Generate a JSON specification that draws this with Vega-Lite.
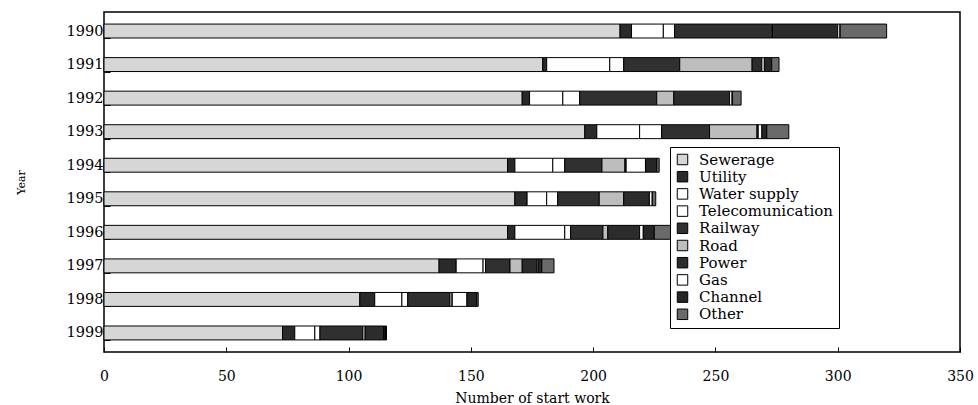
{
  "$schema": "https://vega.github.io/schema/vega-lite/v6.json",
  "width": 856,
  "height": 340,
  "autosize": {"type": "none"},
  "padding": {"left": 104, "top": 12, "right": 18, "bottom": 53},
  "background": "white",
  "config": {
    "view": {"stroke": "black", "strokeWidth": 1.5},
    "font": "DejaVu Serif"
  },
  "data": {
    "values": [
      {"Year": "1990", "Sewerage": 211, "Utility": 4.7, "Water supply": 13, "Telecomunication": 4.6, "Railway": 40, "Road": 0, "Power": 26.7, "Gas": 1, "Channel": 0, "Other": 19},
      {"Year": "1991", "Sewerage": 179.4, "Utility": 1.6, "Water supply": 25.8, "Telecomunication": 5.7, "Railway": 22.9, "Road": 29.6, "Power": 4, "Gas": 1, "Channel": 3, "Other": 3},
      {"Year": "1992", "Sewerage": 171, "Utility": 3, "Water supply": 13.6, "Telecomunication": 6.9, "Railway": 31.5, "Road": 7, "Power": 22.8, "Gas": 1, "Channel": 0.2, "Other": 3.5},
      {"Year": "1993", "Sewerage": 196.6, "Utility": 4.9, "Water supply": 17.5, "Telecomunication": 9, "Railway": 19.6, "Road": 19.4, "Power": 0.5, "Gas": 1.5, "Channel": 2, "Other": 9},
      {"Year": "1994", "Sewerage": 165, "Utility": 3, "Water supply": 15.5, "Telecomunication": 4.9, "Railway": 15.2, "Road": 9.4, "Power": 0.5, "Gas": 7.9, "Channel": 4.6, "Other": 1},
      {"Year": "1995", "Sewerage": 168, "Utility": 5, "Water supply": 8, "Telecomunication": 4.5, "Railway": 17, "Road": 10, "Power": 10.5, "Gas": 1.2, "Channel": 0, "Other": 1.4},
      {"Year": "1996", "Sewerage": 165, "Utility": 3, "Water supply": 20.4, "Telecomunication": 2.4, "Railway": 13.2, "Road": 2, "Power": 13, "Gas": 1.5, "Channel": 4.5, "Other": 8},
      {"Year": "1997", "Sewerage": 137, "Utility": 7, "Water supply": 11, "Telecomunication": 1, "Railway": 10, "Road": 5, "Power": 6, "Gas": 0.5, "Channel": 1.5, "Other": 5},
      {"Year": "1998", "Sewerage": 104.6, "Utility": 6.1, "Water supply": 11.1, "Telecomunication": 2.4, "Railway": 17.2, "Road": 1, "Power": 0, "Gas": 6, "Channel": 4, "Other": 0.6},
      {"Year": "1999", "Sewerage": 73, "Utility": 5, "Water supply": 8.2, "Telecomunication": 2.1, "Railway": 17.5, "Road": 1, "Power": 7.5, "Gas": 0.5, "Channel": 0.5, "Other": 0.2}
    ]
  },
  "transform": [
    {"fold": ["Sewerage", "Utility", "Water supply", "Telecomunication", "Railway", "Road", "Power", "Gas", "Channel", "Other"], "as": ["Category", "Count"]},
    {"calculate": "indexof(['Sewerage','Utility','Water supply','Telecomunication','Railway','Road','Power','Gas','Channel','Other'], datum.Category)", "as": "ord"}
  ],
  "mark": {"type": "bar", "stroke": "black", "strokeWidth": 1},
  "encoding": {
    "y": {
      "field": "Year",
      "type": "nominal",
      "sort": null,
      "scale": {"paddingInner": 0.585, "paddingOuter": 0.36},
      "axis": {
        "title": "Year",
        "titleFont": "DejaVu Serif",
        "titleFontSize": 11,
        "titleFontWeight": "normal",
        "titleColor": "black",
        "titlePadding": 40,
        "labelFont": "DejaVu Serif",
        "labelFontSize": 14.5,
        "labelColor": "black",
        "labelPadding": 7,
        "domain": false,
        "tickBand": "extent",
        "tickSize": -6,
        "tickColor": "black",
        "tickWidth": 1
      }
    },
    "x": {
      "field": "Count",
      "type": "quantitative",
      "stack": "zero",
      "scale": {"domain": [0, 350], "nice": false},
      "axis": {
        "title": "Number of start work",
        "titleFont": "DejaVu Serif",
        "titleFontSize": 14,
        "titleFontWeight": "normal",
        "titleColor": "black",
        "titlePadding": 8,
        "labelFont": "DejaVu Serif",
        "labelFontSize": 14,
        "labelColor": "black",
        "labelPadding": 22,
        "labelFlush": false,
        "values": [0, 50, 100, 150, 200, 250, 300, 350],
        "domain": false,
        "grid": false,
        "tickSize": -5,
        "tickColor": "black"
      }
    },
    "color": {
      "field": "Category",
      "type": "nominal",
      "sort": ["Sewerage", "Utility", "Water supply", "Telecomunication", "Railway", "Road", "Power", "Gas", "Channel", "Other"],
      "scale": {
        "domain": ["Sewerage", "Utility", "Water supply", "Telecomunication", "Railway", "Road", "Power", "Gas", "Channel", "Other"],
        "range": ["#d6d6d6", "#2a2a2a", "#ffffff", "#ffffff", "#303030", "#bdbdbd", "#2c2c2c", "#ffffff", "#262626", "#6a6a6a"]
      },
      "legend": {
        "title": null,
        "orient": "none",
        "legendX": 566,
        "legendY": 135,
        "strokeColor": "black",
        "fillColor": "white",
        "padding": 5,
        "symbolType": "square",
        "symbolSize": 110,
        "symbolStrokeColor": "black",
        "symbolStrokeWidth": 1,
        "symbolOpacity": 1,
        "labelFont": "DejaVu Serif",
        "labelFontSize": 15,
        "labelColor": "black",
        "labelLimit": 300,
        "labelOffset": 9,
        "rowPadding": 1.2
      }
    },
    "order": {"field": "ord", "type": "quantitative"}
  }
}
